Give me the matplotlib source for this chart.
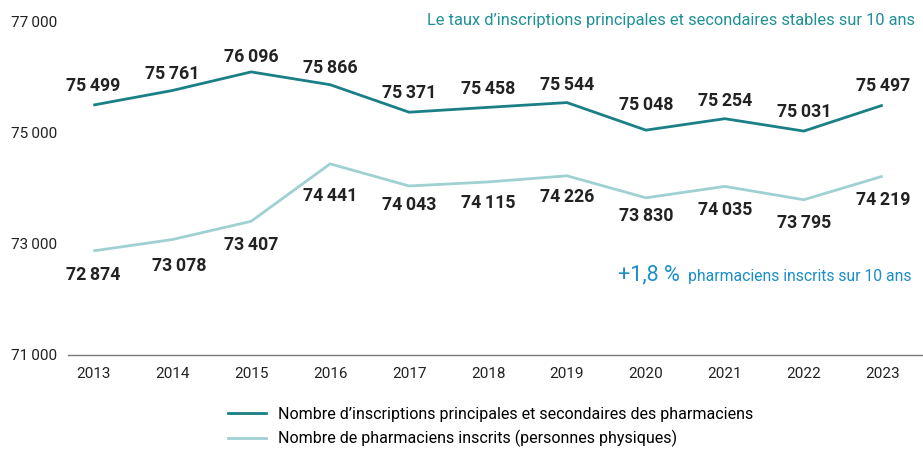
import matplotlib.pyplot as plt
from matplotlib.lines import Line2D

years = [2013, 2014, 2015, 2016, 2017, 2018, 2019, 2020, 2021, 2022, 2023]
inscriptions = [75499, 75761, 76096, 75866, 75371, 75458, 75544, 75048, 75254, 75031, 75497]
pharmaciens = [72874, 73078, 73407, 74441, 74043, 74115, 74226, 73830, 74035, 73795, 74219]
yticks = [71000, 73000, 75000, 77000]

# label offsets in points (dx, dy)
dark_offsets = [(0, 14), (0, 12), (0, 11), (0, 12), (0, 14), (0, 13),
                (0, 13), (0, 18), (0, 13), (0, 14), (0, 14)]
light_offsets = [(0, -17), (5, -19), (0, -17), (0, -23), (0, -14), (0, -15),
                 (0, -15), (0, -13), (0, -17), (0, -17), (0, -17)]

DARK = '#1b7f86'
LIGHT = '#9fd0d2'
TITLE = '#1f9096'
BLUE = '#1b8ec9'

plt.rcParams['font.family'] = ['Roboto', 'DejaVu Sans']


def fmt(v):
    return f'{v:,}'.replace(',', '\u2009')


fig = plt.figure(figsize=(9.23, 4.5), dpi=100)
ax = fig.add_axes([68 / 923, 95 / 450, 855 / 923, 333.3 / 450])

ax.plot(years, inscriptions, color=DARK, lw=2, solid_capstyle='butt')
ax.plot(years, pharmaciens, color=LIGHT, lw=2, solid_capstyle='butt')

for x, v, (dx, dy) in zip(years, inscriptions, dark_offsets):
    ax.annotate(fmt(v), (x, v), xytext=(dx, dy), textcoords='offset points',
                ha='center', va='center', fontsize=12.8, fontweight='bold',
                color='#222222', annotation_clip=False)

for x, v, (dx, dy) in zip(years, pharmaciens, light_offsets):
    ax.annotate(fmt(v), (x, v), xytext=(dx, dy), textcoords='offset points',
                ha='center', va='center', fontsize=12.8, fontweight='bold',
                color='#222222', annotation_clip=False)

ax.set_xlim(2012.68, 2023.51)
ax.set_ylim(71000, 77000)
ax.set_xticks(years)
ax.set_xticklabels([str(y) for y in years])
ax.set_yticks(yticks)
ax.set_yticklabels([fmt(v) for v in yticks])
ax.tick_params(axis='both', length=0, labelsize=11, colors='#222222')
ax.tick_params(axis='x', pad=9)
ax.tick_params(axis='y', pad=8)
for side in ['top', 'right', 'left']:
    ax.spines[side].set_visible(False)
ax.spines['bottom'].set_color('#777777')
ax.spines['bottom'].set_linewidth(1)

fig.text(915 / 923, 1 - 20 / 450,
         'Le taux d\u2019inscriptions principales et secondaires stables sur 10 ans',
         ha='right', va='center', fontsize=11.8, color=TITLE)
fig.text(680 / 923, 1 - 275 / 450, '+1,8 %', ha='right', va='center',
         fontsize=15.5, color=BLUE)
fig.text(688 / 923, 1 - 276 / 450, 'pharmaciens inscrits sur 10 ans',
         ha='left', va='center', fontsize=11.3, color=BLUE)

handles = [Line2D([], [], color=DARK, lw=2),
           Line2D([], [], color=LIGHT, lw=2)]
labels = ['Nombre d\u2019inscriptions principales et secondaires des pharmaciens',
          'Nombre de pharmaciens inscrits (personnes physiques)']
fig.legend(handles, labels, loc='upper left', bbox_to_anchor=(228 / 923, 1 - 407 / 450),
           frameon=False, fontsize=11.5, handlelength=2.35, labelspacing=0.5,
           handletextpad=0.75, borderaxespad=0, borderpad=0)

fig.savefig('out.png', dpi=100)
